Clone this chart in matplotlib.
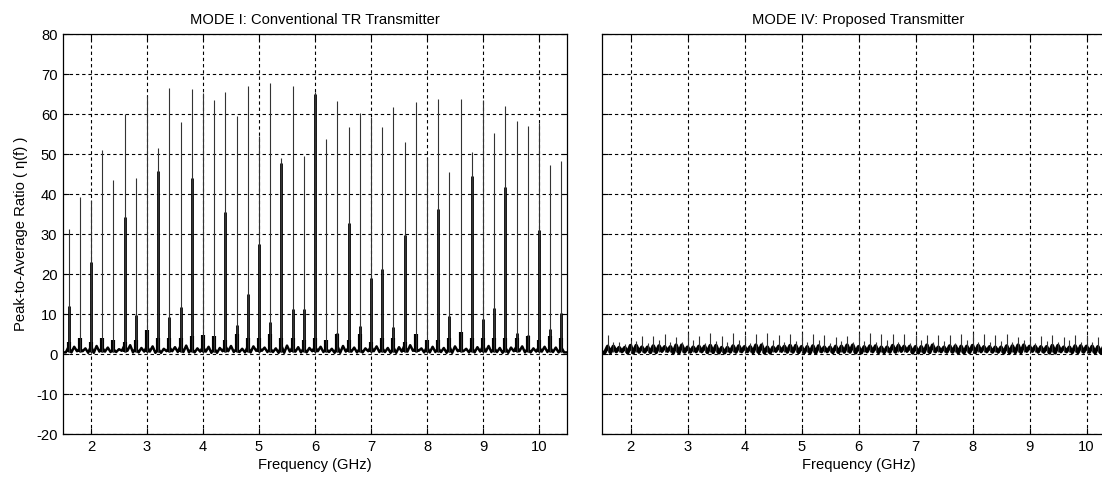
import matplotlib
matplotlib.use("Agg")
import matplotlib.pyplot as plt

# ---------------- data ----------------
spike_freq = [1.6, 1.8, 2.0, 2.2, 2.4, 2.6, 2.8, 3.0, 3.2, 3.4, 3.6, 3.8,
              4.0, 4.2, 4.4, 4.6, 4.8, 5.0, 5.2, 5.4, 5.6, 5.8, 6.0, 6.2,
              6.4, 6.6, 6.8, 7.0, 7.2, 7.4, 7.6, 7.8, 8.0, 8.2, 8.4, 8.6,
              8.8, 9.0, 9.2, 9.4, 9.6, 9.8, 10.0, 10.2, 10.4]

# MODE I: tip of the (narrow) peak and height of the wider core
mode1_peak = [31.2, 39.3, 38.5, 51.0, 43.5, 60.0, 44.0, 64.6, 51.4, 66.6, 58.0, 66.2,
              65.2, 63.5, 65.6, 59.5, 67.0, 54.5, 67.7, 48.9, 67.0, 49.5, 65.6, 53.7,
              63.3, 56.8, 60.2, 59.3, 56.8, 61.8, 53.1, 62.9, 48.9, 63.8, 45.6, 63.8,
              50.4, 63.5, 55.3, 62.0, 58.3, 57.1, 57.7, 47.3, 48.3]
mode1_core = [12.0, 2.7, 23.0, 4.0, 3.0, 34.3, 9.8, 3.5, 45.8, 9.2, 11.8, 44.1,
              2.7, 4.3, 35.6, 7.3, 14.9, 27.4, 8.1, 47.7, 11.2, 11.2, 65.0, 3.5,
              5.2, 32.8, 7.1, 18.9, 21.3, 6.8, 29.8, 5.0, 3.5, 36.2, 9.6, 5.6,
              44.6, 8.7, 11.4, 41.7, 5.2, 4.8, 31.0, 6.2, 10.2]
mode1_foot = [3.0, 4.0, 3.0, 4.0, 3.5, 3.0, 3.5, 6.0, 4.0, 4.0, 4.0, 4.5,
              4.8, 4.5, 3.5, 5.0, 4.0, 4.0, 5.0, 4.0, 4.0, 3.5, 4.0, 3.5,
              5.0, 3.5, 5.0, 3.0, 4.0, 4.0, 3.0, 5.0, 3.5, 3.5, 4.0, 5.5,
              4.0, 4.0, 4.0, 4.0, 4.0, 4.5, 3.5, 4.5, 4.0]
mode1_gap = [1.8, 1.4, 2.0, 1.6, 1.2, 2.2, 1.5, 1.9, 1.3, 1.7, 2.1, 1.4,
             1.8, 1.5, 2.0, 1.3, 1.9, 1.6, 1.4, 2.1, 1.7, 1.5, 1.8, 1.3,
             2.0, 1.6, 1.4, 1.9, 1.5, 1.7, 2.2, 1.4, 1.8, 1.5, 1.9, 1.3,
             1.7, 2.0, 1.5, 1.6, 1.9, 1.4, 1.8, 1.6]
mode1_low = [0.4, 0.7, 0.3, 0.6, 0.5, 0.8, 0.4, 0.6, 0.3, 0.7, 0.5, 0.4,
             0.6, 0.3, 0.7, 0.5, 0.4, 0.8, 0.5, 0.3, 0.6, 0.4, 0.7, 0.5,
             0.3, 0.6, 0.4, 0.7, 0.5, 0.3, 0.6, 0.8, 0.4, 0.5, 0.3, 0.7,
             0.4, 0.6, 0.5, 0.3, 0.7, 0.4, 0.6, 0.5, 0.4]

# MODE IV: main spikes and the smaller spikes between them
mode4_peak = [4.8, 3.1, 3.5, 4.5, 4.5, 5.0, 4.2, 5.2, 4.5, 5.3, 4.5, 5.2,
              4.8, 5.0, 5.2, 4.8, 5.0, 5.2, 5.0, 4.8, 4.3, 4.5, 5.2, 5.2,
              5.0, 5.0, 5.0, 4.8, 4.8, 4.8, 4.8, 5.0, 5.2, 5.0, 4.8, 5.0,
              4.3, 4.5, 4.5, 4.8, 4.3, 4.8, 4.8, 4.3, 4.5]
mode4_mid = [3.0, 2.6, 3.2, 2.8, 3.4, 2.9, 3.1, 3.5, 2.7, 3.3, 3.0, 3.6,
             2.8, 3.1, 3.4, 2.9, 3.2, 3.0, 3.5, 2.8, 3.3, 3.0, 3.2, 2.9,
             3.6, 3.1, 2.8, 3.4, 3.0, 3.2, 2.7, 3.5, 3.1, 2.9, 3.3, 3.0,
             3.6, 2.8, 3.2, 3.0, 3.4, 2.9, 3.1, 3.0]
mode4_hi = [1.9, 1.6, 2.1, 1.7, 2.0, 1.8, 2.2, 1.7, 1.9, 2.1, 1.6, 2.0,
            1.8, 2.2, 1.7, 1.9, 2.1, 1.8, 2.0, 1.7, 1.9, 2.2, 1.8, 2.0,
            1.7, 2.1, 1.9, 1.8, 2.2, 1.7, 2.0, 1.9, 2.1, 1.8, 1.7, 2.0,
            2.2, 1.9, 1.8, 2.1, 1.7, 2.0, 1.9, 1.8, 1.9]
mode4_low = [0.4, 0.6, 0.3, 0.5, 0.4, 0.7, 0.3, 0.5, 0.6, 0.4, 0.3, 0.5,
             0.6, 0.4, 0.3, 0.7, 0.5, 0.4, 0.3, 0.6, 0.4, 0.5, 0.3, 0.6,
             0.4, 0.5, 0.7, 0.3, 0.4, 0.6, 0.5, 0.3, 0.4, 0.6, 0.5, 0.3,
             0.4, 0.7, 0.5, 0.3, 0.6, 0.4, 0.5, 0.3, 0.4]

xticks = [2, 3, 4, 5, 6, 7, 8, 9, 10]
yticks = [-20, -10, 0, 10, 20, 30, 40, 50, 60, 70, 80]
titles = ["MODE I: Conventional TR Transmitter", "MODE IV: Proposed Transmitter"]
xlabel = "Frequency (GHz)"
ylabel = "Peak-to-Average Ratio ( η(f) )"

# ---------------- figure ----------------
plt.rcParams['font.family'] = ['Liberation Sans', 'DejaVu Sans']
plt.rcParams['axes.unicode_minus'] = False
FS = 10.6
W, H = 1102, 478
fig = plt.figure(figsize=(W / 100, H / 100), dpi=100)
ax1 = fig.add_axes([63 / W, 1 - 434 / H, 504 / W, 400 / H])
ax2 = fig.add_axes([602 / W, 1 - 434 / H, 513 / W, 400 / H])


def floor_trace(freqs, foot, low, gap, x0, x1):
    """zig-zag noise floor built from the per-spike value lists"""
    xs, ys = [x0], [low[0]]
    for i, f in enumerate(freqs):
        xs += [f - 0.05, f, f + 0.05]
        ys += [low[i], foot[i], low[i]]
        if i < len(gap):
            xs += [f + 0.1]
            ys += [gap[i]]
    xs.append(x1)
    ys.append(low[-1])
    return xs, ys


# MODE I
xs, ys = floor_trace(spike_freq, mode1_gap + [1.6], mode1_low, mode1_gap, 1.5, 10.5)
ax1.plot(xs, ys, color='black', lw=1.8)
foot_x, foot_y = [], []
ax1.vlines(spike_freq, 0.5, mode1_foot, color='black', lw=3.0)
ax1.vlines(spike_freq, 0.5, mode1_core, color='black', lw=2.0)
ax1.vlines(spike_freq, 0.5, mode1_peak, color='#333333', lw=0.8)

# MODE IV
xs, ys = floor_trace(spike_freq, mode4_hi, mode4_low, mode4_hi, 1.5, 10.5)
ax2.plot(xs, ys, color='black', lw=2.6)
ax2.vlines(spike_freq, 0.6, mode4_peak, color='#333333', lw=0.8)
mid_freq = [f + 0.1 for f in spike_freq[:-1]]
ax2.vlines(mid_freq, 0.6, mode4_mid, color='#333333', lw=0.8)

for k, ax in enumerate([ax1, ax2]):
    ax.set_xlim(1.5, 10.5)
    ax.set_ylim(-20, 80)
    ax.set_xticks(xticks)
    ax.set_yticks(yticks)
    ax.grid(True, color='black', linestyle=(0, (3, 2.6)), lw=0.8)
    ax.set_axisbelow(True)
    ax.tick_params(direction='in', length=4, width=0.8, top=True, right=True,
                   labelsize=FS, colors='black', pad=4)
    for s in ax.spines.values():
        s.set_linewidth(0.9)
        s.set_color('black')
    ax.set_title(titles[k], fontsize=FS, pad=7)
    ax.set_xlabel(xlabel, fontsize=FS, labelpad=3)

ax1.set_ylabel(ylabel, fontsize=FS, labelpad=6)
ax2.set_yticklabels([])

fig.savefig("out.png", dpi=100)
